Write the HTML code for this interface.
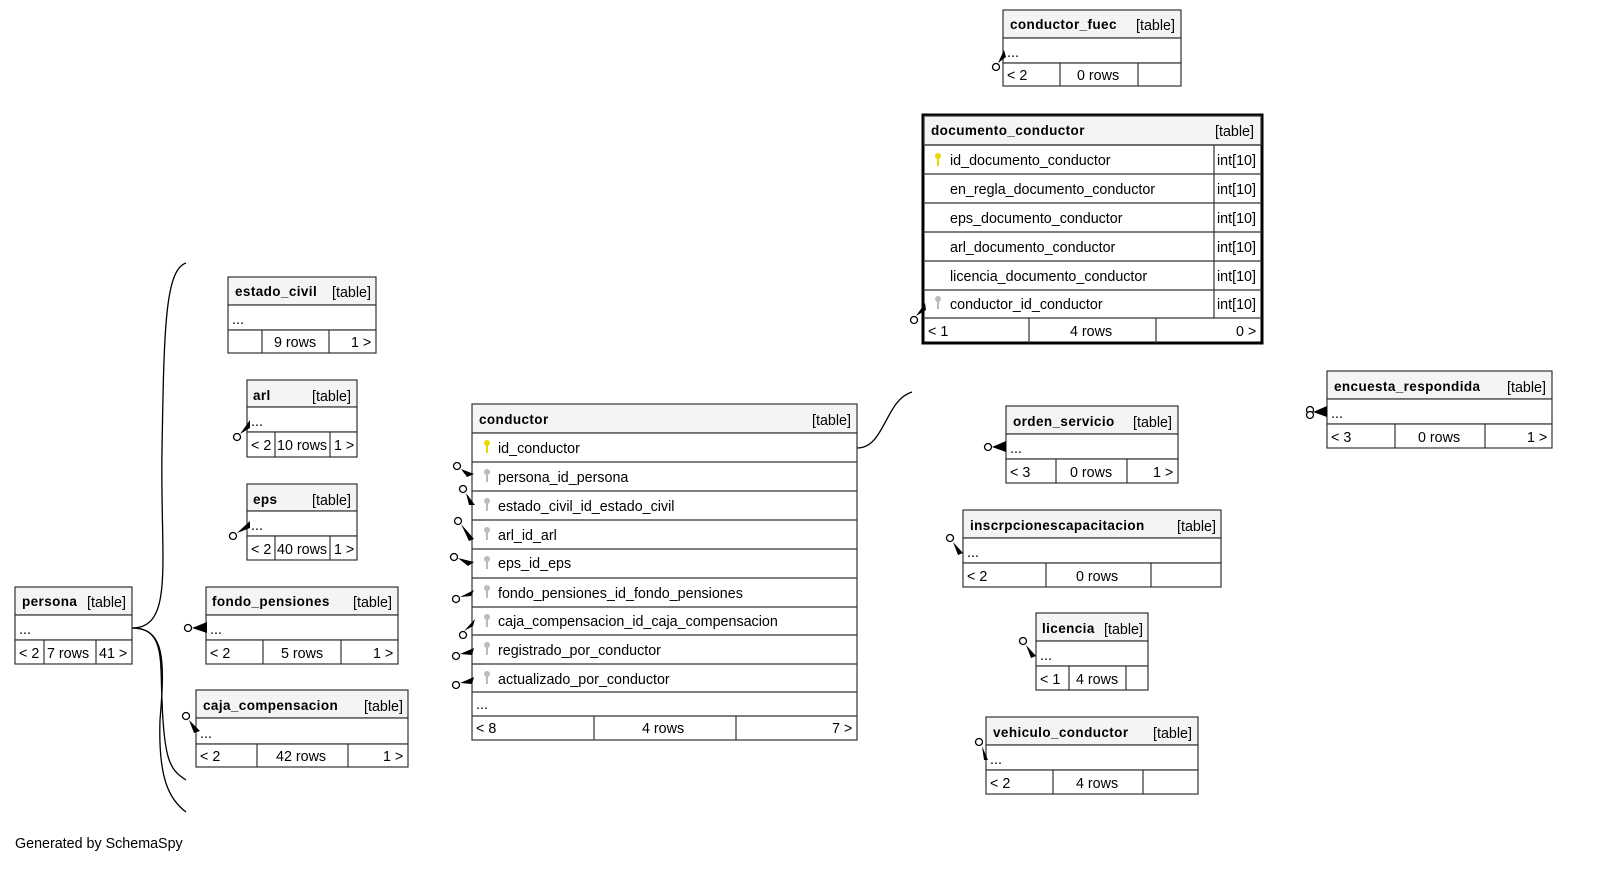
<!DOCTYPE html>
<html><head><meta charset="utf-8"><style>
html,body{margin:0;padding:0;background:#fff;}
svg{display:block;font-family:"Liberation Sans",sans-serif;font-size:14.3px;}
.h{fill:#f4f4f4;stroke:#333;stroke-width:1.2}
.r{fill:#fff;stroke:#333;stroke-width:1.2}
.b{font-weight:bold;letter-spacing:0.4px;font-size:13.5px}
line{stroke:#333;stroke-width:1.2}
.c{fill:none;stroke:#000;stroke-width:1.3}
.m{fill:#fff;stroke:#000;stroke-width:1.3}
</style></head><body>
<svg width="1597" height="877" viewBox="0 0 1597 877">
<path class="c" d="M132,628 C175,628 160,560 162,450 C164,330 165,270 186,263"/>
<path class="c" d="M132,628 C165,628 160,660 162,700 C164,760 170,770 186,780"/>
<path class="c" d="M132,628 C165,628 165,660 160,720 C158,780 170,800 186,812"/>
<path class="c" d="M857,448 C885,448 885,400 912,392"/>

<rect class="h" x="1003" y="10" width="178" height="28"/>
<rect class="r" x="1003" y="38" width="178" height="25"/>
<rect class="r" x="1003" y="63" width="178" height="23"/>
<line x1="1060" y1="63" x2="1060" y2="86"/><line x1="1138" y1="63" x2="1138" y2="86"/>
<text x="1010" y="29" class="b">conductor_fuec</text><text x="1136" y="30">[table]</text>
<text x="1007" y="57">...</text><text x="1007" y="80">&lt; 2</text><text x="1077" y="80">0 rows</text>

<rect x="923" y="115" width="339" height="228" fill="#fff" stroke="#000" stroke-width="3"/>
<rect class="h" x="924" y="116" width="337" height="29" stroke="none"/>
<line x1="923" y1="145" x2="1262" y2="145"/><line x1="923" y1="174" x2="1262" y2="174"/><line x1="923" y1="203" x2="1262" y2="203"/><line x1="923" y1="232" x2="1262" y2="232"/><line x1="923" y1="261" x2="1262" y2="261"/><line x1="923" y1="290" x2="1262" y2="290"/><line x1="923" y1="318" x2="1262" y2="318"/>
<line x1="1214" y1="145" x2="1214" y2="318"/><line x1="1029" y1="318" x2="1029" y2="343"/><line x1="1156" y1="318" x2="1156" y2="343"/>
<text x="931" y="135" class="b">documento_conductor</text><text x="1215" y="136">[table]</text>
<text x="950" y="165">id_documento_conductor</text><text x="950" y="194">en_regla_documento_conductor</text><text x="950" y="223">eps_documento_conductor</text><text x="950" y="252">arl_documento_conductor</text><text x="950" y="281">licencia_documento_conductor</text><text x="950" y="309">conductor_id_conductor</text>
<text x="1217" y="165">int[10]</text><text x="1217" y="194">int[10]</text><text x="1217" y="223">int[10]</text><text x="1217" y="252">int[10]</text><text x="1217" y="281">int[10]</text><text x="1217" y="309">int[10]</text>
<text x="928" y="336">&lt; 1</text><text x="1070" y="336">4 rows</text><text x="1236" y="336">0 &gt;</text>

<rect class="h" x="228" y="277" width="148" height="28"/><rect class="r" x="228" y="305" width="148" height="25"/><rect class="r" x="228" y="330" width="148" height="23"/>
<line x1="262" y1="330" x2="262" y2="353"/><line x1="329" y1="330" x2="329" y2="353"/>
<text x="235" y="296" class="b">estado_civil</text><text x="332" y="297">[table]</text><text x="232" y="324">...</text><text x="274" y="347">9 rows</text><text x="351" y="347">1 &gt;</text>

<rect class="h" x="247" y="380" width="110" height="27"/><rect class="r" x="247" y="407" width="110" height="25"/><rect class="r" x="247" y="432" width="110" height="25"/>
<line x1="275" y1="432" x2="275" y2="457"/><line x1="330" y1="432" x2="330" y2="457"/>
<text x="253" y="400" class="b">arl</text><text x="312" y="401">[table]</text><text x="251" y="426">...</text><text x="251" y="450">&lt; 2</text><text x="277" y="450">10 rows</text><text x="334" y="450">1 &gt;</text>

<rect class="h" x="247" y="484" width="110" height="27"/><rect class="r" x="247" y="511" width="110" height="25"/><rect class="r" x="247" y="536" width="110" height="24"/>
<line x1="275" y1="536" x2="275" y2="560"/><line x1="330" y1="536" x2="330" y2="560"/>
<text x="253" y="504" class="b">eps</text><text x="312" y="505">[table]</text><text x="251" y="530">...</text><text x="251" y="554">&lt; 2</text><text x="277" y="554">40 rows</text><text x="334" y="554">1 &gt;</text>

<rect class="h" x="206" y="587" width="192" height="28"/><rect class="r" x="206" y="615" width="192" height="25"/><rect class="r" x="206" y="640" width="192" height="24"/>
<line x1="263" y1="640" x2="263" y2="664"/><line x1="341" y1="640" x2="341" y2="664"/>
<text x="212" y="606" class="b">fondo_pensiones</text><text x="353" y="607">[table]</text><text x="210" y="634">...</text><text x="210" y="658">&lt; 2</text><text x="281" y="658">5 rows</text><text x="373" y="658">1 &gt;</text>

<rect class="h" x="196" y="690" width="212" height="28"/><rect class="r" x="196" y="718" width="212" height="26"/><rect class="r" x="196" y="744" width="212" height="23"/>
<line x1="257" y1="744" x2="257" y2="767"/><line x1="348" y1="744" x2="348" y2="767"/>
<text x="203" y="710" class="b">caja_compensacion</text><text x="364" y="711">[table]</text><text x="200" y="738">...</text><text x="200" y="761">&lt; 2</text><text x="276" y="761">42 rows</text><text x="383" y="761">1 &gt;</text>

<rect class="h" x="15" y="587" width="117" height="28"/><rect class="r" x="15" y="615" width="117" height="25"/><rect class="r" x="15" y="640" width="117" height="24"/>
<line x1="44" y1="640" x2="44" y2="664"/><line x1="96" y1="640" x2="96" y2="664"/>
<text x="22" y="606" class="b">persona</text><text x="87" y="607">[table]</text><text x="19" y="634">...</text><text x="19" y="658">&lt; 2</text><text x="47" y="658">7 rows</text><text x="99" y="658">41 &gt;</text>

<rect class="h" x="472" y="404" width="385" height="29"/><rect class="r" x="472" y="433" width="385" height="307"/>
<line x1="472" y1="462" x2="857" y2="462"/><line x1="472" y1="491" x2="857" y2="491"/><line x1="472" y1="520" x2="857" y2="520"/><line x1="472" y1="549" x2="857" y2="549"/><line x1="472" y1="578" x2="857" y2="578"/><line x1="472" y1="607" x2="857" y2="607"/><line x1="472" y1="635" x2="857" y2="635"/><line x1="472" y1="664" x2="857" y2="664"/><line x1="472" y1="692" x2="857" y2="692"/><line x1="472" y1="716" x2="857" y2="716"/>
<line x1="594" y1="716" x2="594" y2="740"/><line x1="736" y1="716" x2="736" y2="740"/>
<text x="479" y="424" class="b">conductor</text><text x="812" y="425">[table]</text>
<text x="498" y="453">id_conductor</text><text x="498" y="482">persona_id_persona</text><text x="498" y="511">estado_civil_id_estado_civil</text><text x="498" y="540">arl_id_arl</text><text x="498" y="568">eps_id_eps</text><text x="498" y="598">fondo_pensiones_id_fondo_pensiones</text><text x="498" y="626">caja_compensacion_id_caja_compensacion</text><text x="498" y="655">registrado_por_conductor</text><text x="498" y="684">actualizado_por_conductor</text>
<text x="476" y="709">...</text><text x="476" y="733">&lt; 8</text><text x="642" y="733">4 rows</text><text x="832" y="733">7 &gt;</text>

<rect class="h" x="1006" y="406" width="172" height="28"/><rect class="r" x="1006" y="434" width="172" height="25"/><rect class="r" x="1006" y="459" width="172" height="24"/>
<line x1="1056" y1="459" x2="1056" y2="483"/><line x1="1127" y1="459" x2="1127" y2="483"/>
<text x="1013" y="426" class="b">orden_servicio</text><text x="1133" y="427">[table]</text><text x="1010" y="453">...</text><text x="1010" y="477">&lt; 3</text><text x="1070" y="477">0 rows</text><text x="1153" y="477">1 &gt;</text>

<rect class="h" x="1327" y="371" width="225" height="28"/><rect class="r" x="1327" y="399" width="225" height="25"/><rect class="r" x="1327" y="424" width="225" height="24"/>
<line x1="1395" y1="424" x2="1395" y2="448"/><line x1="1485" y1="424" x2="1485" y2="448"/>
<text x="1334" y="391" class="b">encuesta_respondida</text><text x="1507" y="392">[table]</text><text x="1331" y="418">...</text><text x="1331" y="442">&lt; 3</text><text x="1418" y="442">0 rows</text><text x="1527" y="442">1 &gt;</text>

<rect class="h" x="963" y="510" width="258" height="28"/><rect class="r" x="963" y="538" width="258" height="25"/><rect class="r" x="963" y="563" width="258" height="24"/>
<line x1="1046" y1="563" x2="1046" y2="587"/><line x1="1151" y1="563" x2="1151" y2="587"/>
<text x="970" y="530" class="b">inscrpcionescapacitacion</text><text x="1177" y="531">[table]</text><text x="967" y="557">...</text><text x="967" y="581">&lt; 2</text><text x="1076" y="581">0 rows</text>

<rect class="h" x="1036" y="613" width="112" height="28"/><rect class="r" x="1036" y="641" width="112" height="25"/><rect class="r" x="1036" y="666" width="112" height="24"/>
<line x1="1069" y1="666" x2="1069" y2="690"/><line x1="1126" y1="666" x2="1126" y2="690"/>
<text x="1042" y="633" class="b">licencia</text><text x="1104" y="634">[table]</text><text x="1040" y="660">...</text><text x="1040" y="684">&lt; 1</text><text x="1076" y="684">4 rows</text>

<rect class="h" x="986" y="717" width="212" height="28"/><rect class="r" x="986" y="745" width="212" height="25"/><rect class="r" x="986" y="770" width="212" height="24"/>
<line x1="1053" y1="770" x2="1053" y2="794"/><line x1="1143" y1="770" x2="1143" y2="794"/>
<text x="993" y="737" class="b">vehiculo_conductor</text><text x="1153" y="738">[table]</text><text x="990" y="764">...</text><text x="990" y="788">&lt; 2</text><text x="1076" y="788">4 rows</text>

<g fill="#e6d800"><circle cx="487" cy="443" r="3"/><rect x="486" y="443" width="2" height="10"/><circle cx="938" cy="156" r="3"/><rect x="937" y="156" width="2" height="10"/></g>
<g fill="#bbb">
<circle cx="487" cy="472" r="3"/><rect x="486" y="472" width="2" height="10"/>
<circle cx="487" cy="501" r="3"/><rect x="486" y="501" width="2" height="10"/>
<circle cx="487" cy="530" r="3"/><rect x="486" y="530" width="2" height="10"/>
<circle cx="487" cy="559" r="3"/><rect x="486" y="559" width="2" height="10"/>
<circle cx="487" cy="588" r="3"/><rect x="486" y="588" width="2" height="10"/>
<circle cx="487" cy="617" r="3"/><rect x="486" y="617" width="2" height="10"/>
<circle cx="487" cy="645" r="3"/><rect x="486" y="645" width="2" height="10"/>
<circle cx="487" cy="674" r="3"/><rect x="486" y="674" width="2" height="10"/>
<circle cx="938" cy="299" r="3"/><rect x="937" y="299" width="2" height="10"/>
</g>

<g>
<circle class="m" cx="457" cy="466" r="3.5"/><path d="M461,469 L474,474 L467,477 Z"/>
<circle class="m" cx="463" cy="489" r="3.5"/><path d="M466,493 L475,505 L469,505 Z"/>
<circle class="m" cx="458" cy="521" r="3.5"/><path d="M461,524 L474,539 L469,541 Z"/>
<circle class="m" cx="454" cy="557" r="3.5"/><path d="M458,558 L474,562 L468,566 Z"/>
<circle class="m" cx="456" cy="599" r="3.5"/><path d="M460,597 L474,590 L471,596 Z"/>
<circle class="m" cx="463" cy="635" r="3.5"/><path d="M464,631 L475,619 L473,626 Z"/>
<circle class="m" cx="456" cy="656" r="3.5"/><path d="M460,654 L474,648 L472,655 Z"/>
<circle class="m" cx="456" cy="685" r="3.5"/><path d="M460,683 L474,677 L472,684 Z"/>
<circle class="m" cx="237" cy="437" r="3.5"/><path d="M240,434 L250,420 L250,428 Z"/>
<circle class="m" cx="233" cy="536" r="3.5"/><path d="M237,533 L250,521 L250,528 Z"/>
<circle class="m" cx="188" cy="628" r="3.5"/><path d="M192,628 L207,622 L207,633 Z"/>
<circle class="m" cx="186" cy="716" r="3.5"/><path d="M189,720 L200,731 L194,733 Z"/>
<circle class="m" cx="996" cy="67" r="3.5"/><path d="M998,63 L1004,50 L1006,57 Z"/>
<circle class="m" cx="914" cy="320" r="3.5"/><path d="M916,316 L925,303 L926,310 Z"/>
<circle class="m" cx="988" cy="447" r="3.5"/><path d="M992,447 L1006,441 L1006,452 Z"/>
<circle class="m" cx="1310" cy="410" r="3.5"/><circle class="m" cx="1310" cy="415" r="3.5"/><path d="M1313,412 L1327,406 L1327,417 Z"/>
<circle class="m" cx="950" cy="538" r="3.5"/><path d="M953,542 L963,553 L958,555 Z"/>
<circle class="m" cx="1023" cy="641" r="3.5"/><path d="M1026,645 L1036,656 L1031,658 Z"/>
<circle class="m" cx="979" cy="742" r="3.5"/><path d="M982,746 L988,760 L984,760 Z"/>
</g>

<text x="15" y="848">Generated by SchemaSpy</text>
</svg>
</body></html>
